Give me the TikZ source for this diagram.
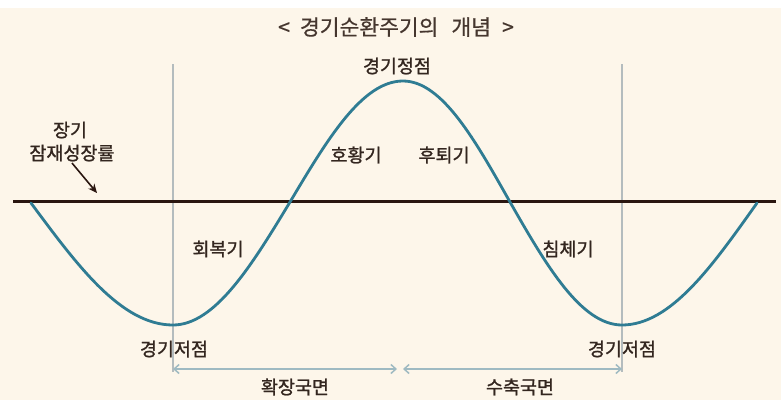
\documentclass[tikz,border=0pt]{standalone}
\usepackage{fontspec}
\setmainfont{Noto Sans CJK KR}
\newfontfamily\lblfont[FakeBold=1.2]{Noto Sans CJK KR}
\newfontfamily\ttlfont[FakeBold=0.6]{Noto Sans CJK KR}
\usetikzlibrary{arrows.meta}
\definecolor{bg}{HTML}{FDF6EA}
\definecolor{txt}{HTML}{33261F}
\definecolor{ttl}{HTML}{45362E}
\definecolor{wave}{HTML}{2F7C93}
\definecolor{axis}{HTML}{2A1610}
\definecolor{vline}{HTML}{B4BCBE}
\definecolor{dim}{HTML}{9FBAC2}
\begin{document}
\begin{tikzpicture}[x=1pt,y=-1pt,
  lbl/.style={font=\lblfont\fontsize{18.5}{19}\selectfont, text=txt, inner sep=0pt},
  ttlstyle/.style={font=\ttlfont\fontsize{21.5}{22}\selectfont, text=ttl, inner sep=0pt},
  guide/.style={draw=vline, line width=1.4pt},
  dimline/.style={draw=dim, line width=1.5pt, {Straight Barb[length=5pt,width=9pt]}-{Straight Barb[length=5pt,width=9pt]}},
  wavestyle/.style={draw=wave, line width=2.8pt, line cap=round},
  axisstyle/.style={draw=axis, line width=3pt}]
\useasboundingbox (0,0) rectangle (781,400);
\fill[white] (0,0) rectangle (781,8);
\fill[bg] (0,8) rectangle (781,400);

% guides
\coordinate (gl1) at (173,64);
\coordinate (gl2) at (173,372);
\coordinate (gr1) at (622,64);
\coordinate (gr2) at (622,372);
\draw[guide] (gl1) -- (gl2);
\draw[guide] (gr1) -- (gr2);

% axis
\coordinate (ax1) at (13,201);
\coordinate (ax2) at (776,201);
\draw[axisstyle] (ax1) -- (ax2);

% wave
\coordinate (w0) at (31,203);
\coordinate (w1) at (173,325);
\coordinate (w2) at (290,202);
\coordinate (w3) at (403,81);
\coordinate (w4) at (510,202);
\coordinate (w5) at (622,325);
\coordinate (w6) at (757,203);
\draw[wavestyle] (w0)
  .. controls (77,265) and (121,325) .. (w1)
  .. controls (215,325) and (252,265) .. (w2)
  .. controls (327,140) and (362,81) .. (w3)
  .. controls (442,81) and (475,140) .. (w4)
  .. controls (546,265) and (581,325) .. (w5)
  .. controls (671,325) and (713,265) .. (w6);

% labels
\node[ttlstyle] (title) at (396,27) {<\hspace{10pt}경기순환주기의\hspace{13pt}개념\hspace{11pt}>};
\node[lbl] (peak) at (397,66) {경기정점};
\node[lbl] (lt1) at (70,130) {장기};
\node[lbl] (lt2) at (72,153) {잠재성장률};
\node[lbl] (boom) at (356,155) {호황기};
\node[lbl] (rec) at (444,155) {후퇴기};
\node[lbl] (recov) at (218,249) {회복기};
\node[lbl] (slump) at (568,249) {침체기};
\node[lbl] (trl) at (174,349) {경기저점};
\node[lbl] (trr) at (622,349) {경기저점};
\node[lbl] (exp) at (295,387) {확장국면};
\node[lbl] (con) at (520,387) {수축국면};

% arrow to axis
\coordinate (ptr) at (97,193);
\draw[draw=axis, line width=1.6pt, -{Stealth[length=9pt,width=8pt]}] (72,163) -- (ptr);

% dimension arrows
\coordinate (dl) at (173,369);
\coordinate (dm) at (400,369);
\coordinate (dr) at (622,369);
\draw[dimline, shorten >=3pt] (dl) -- (dm);
\draw[dimline, shorten <=3pt] (dm) -- (dr);
\end{tikzpicture}
\end{document}
